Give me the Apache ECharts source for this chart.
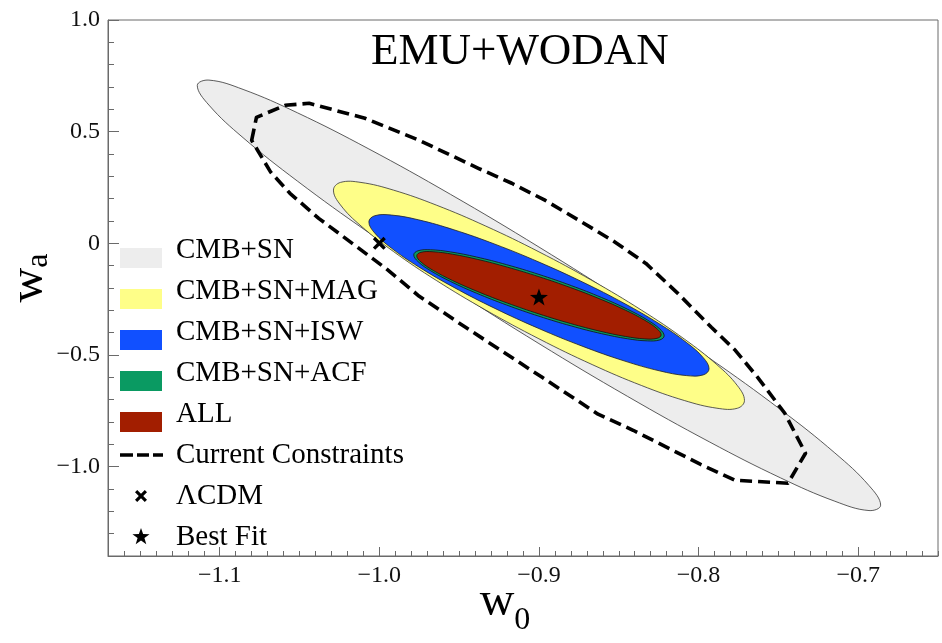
<!DOCTYPE html>
<html><head><meta charset="utf-8">
<script src="https://cdn.jsdelivr.net/npm/echarts@6/dist/echarts.min.js"></script>
<style>html,body{margin:0;padding:0;background:#fff}#c{width:942px;height:643px}</style>
</head><body><div id="c"></div>
<script>
// ---- data (w0, wa) contour points ----
const cmbSn = [[-0.68594,-1.17259],[-0.69323,-1.19653],[-0.71462,-1.15478],[-0.74864,-1.05021],[-0.79297,-0.88994],[-0.84460,-0.68487],[-0.9,-0.44900],[-0.95540,-0.19839],[-1.00703,0.04986],[-1.05136,0.27885],[-1.08538,0.47298],[-1.10677,0.61901],[-1.11406,0.70699],[-1.10677,0.73093],[-1.08538,0.68918],[-1.05136,0.58461],[-1.00703,0.42434],[-0.95540,0.21927],[-0.9,-0.01660],[-0.84460,-0.26721],[-0.79297,-0.51546],[-0.74864,-0.74445],[-0.71462,-0.93858],[-0.69323,-1.08461]];
const cmbSnMag = [[-0.77125,-0.70399],[-0.77564,-0.73834],[-0.78850,-0.73823],[-0.80896,-0.70367],[-0.83562,-0.63703],[-0.86668,-0.54284],[-0.9,-0.42752],[-0.93332,-0.29894],[-0.96438,-0.16583],[-0.99104,-0.03731],[-1.01150,0.07791],[-1.02436,0.17194],[-1.02875,0.23839],[-1.02436,0.27274],[-1.01150,0.27263],[-0.99104,0.23807],[-0.96438,0.17143],[-0.93332,0.07724],[-0.9,-0.03808],[-0.86668,-0.16666],[-0.83562,-0.29977],[-0.80896,-0.42829],[-0.78850,-0.54351],[-0.77564,-0.63754]];
const cmbSnIsw = [[-0.79344,-0.56175],[-0.79707,-0.58906],[-0.80772,-0.59210],[-0.82465,-0.57065],[-0.84672,-0.52618],[-0.87242,-0.46171],[-0.9,-0.38164],[-0.92758,-0.29143],[-0.95328,-0.19722],[-0.97535,-0.10545],[-0.99228,-0.02234],[-1.00293,0.04642],[-1.00656,0.09615],[-1.00293,0.12346],[-0.99228,0.12650],[-0.97535,0.10505],[-0.95328,0.06058],[-0.92758,-0.00389],[-0.9,-0.08396],[-0.87242,-0.17417],[-0.84672,-0.26838],[-0.82465,-0.36015],[-0.80772,-0.44326],[-0.79707,-0.51202]];
const cmbSnAcf = [[-0.82156,-0.41426],[-0.82423,-0.43229],[-0.83207,-0.43673],[-0.84454,-0.42726],[-0.86078,-0.40455],[-0.87970,-0.37014],[-0.9,-0.32635],[-0.92030,-0.27620],[-0.93922,-0.22309],[-0.95546,-0.17064],[-0.96793,-0.12243],[-0.97577,-0.08173],[-0.97844,-0.05134],[-0.97577,-0.03331],[-0.96793,-0.02887],[-0.95546,-0.03834],[-0.93922,-0.06105],[-0.92030,-0.09546],[-0.9,-0.13925],[-0.87970,-0.18940],[-0.86078,-0.24251],[-0.84454,-0.29496],[-0.83207,-0.34317],[-0.82423,-0.38387]];
const allProbes = [[-0.82344,-0.40991],[-0.82605,-0.42543],[-0.83369,-0.42781],[-0.84586,-0.41691],[-0.86172,-0.39346],[-0.88018,-0.35906],[-0.9,-0.31606],[-0.91982,-0.26738],[-0.93828,-0.21634],[-0.95414,-0.16643],[-0.96631,-0.12105],[-0.97395,-0.08327],[-0.97656,-0.05569],[-0.97395,-0.04017],[-0.96631,-0.03779],[-0.95414,-0.04869],[-0.93828,-0.07214],[-0.91982,-0.10654],[-0.9,-0.14954],[-0.88018,-0.19822],[-0.86172,-0.24926],[-0.84586,-0.29917],[-0.83369,-0.34455],[-0.82605,-0.38233]];
const currentConstraints = [[-1.080,0.461],[-1.077,0.564],[-1.059,0.618],[-1.044,0.627],[-1.009,0.560],[-0.975,0.461],[-0.938,0.336],[-0.917,0.269],[-0.896,0.192],[-0.875,0.103],[-0.854,0.013],[-0.833,-0.090],[-0.813,-0.224],[-0.792,-0.376],[-0.777,-0.479],[-0.763,-0.600],[-0.746,-0.761],[-0.733,-0.940],[-0.744,-1.074],[-0.777,-1.061],[-0.799,-0.989],[-0.841,-0.837],[-0.863,-0.765],[-0.898,-0.600],[-0.946,-0.376],[-0.975,-0.237],[-0.996,-0.112],[-1.017,0.000],[-1.038,0.112],[-1.056,0.224],[-1.068,0.318]];
const lcdmPoint = [[-1.0, 0.0]];
const bestFitPoint = [[-0.9, -0.24]];
const xTickValues = [-1.1, -1.0, -0.9, -0.8, -0.7];
const yTickValues = [-1.0, -0.5, 0, 0.5, 1.0];
const seriesNames = ['CMB+SN','CMB+SN+MAG','CMB+SN+ISW','CMB+SN+ACF','ALL','Current Constraints','ΛCDM','Best Fit'];

// ---- styling ----
const FONT = 'Liberation Serif';
const AX = '#6a6a6a';
const fmt = v => v === 0 ? '0' : (v < 0 ? '\u2212' : '') + Math.abs(v).toFixed(1);

const corners = 'M0,0L0.01,0L0,0.01Z M51,36L50.99,36L51,35.99Z ';
const swatchIcon = 'path://' + corners + 'M0,16L42,16L42,36L0,36Z';
const dashIcon = 'path://' + corners + 'M0,16.25L13,16.25L13,19.75L0,19.75Z M17,16.25L29,16.25L29,19.75L17,19.75Z M33,16.25L43,16.25L43,19.75L33,19.75Z';
const xShape = 'M15,14.2L17.2,12L21,15.8L24.8,12L27,14.2L23.2,18L27,21.8L24.8,24L21,20.2L17.2,24L15,21.8L18.8,18Z';
const starShape = 'M21,9L23.12,15.09L29.56,15.22L24.42,19.11L26.29,25.28L21,21.6L15.71,25.28L17.58,19.11L12.44,15.22L18.88,15.09Z';
const xIcon = 'path://' + corners + xShape;
const starIcon = 'path://' + corners + starShape;

function contour(name, pts, fill, stroke, lw, smooth, dash, z) {
  return {
    type: 'custom', name: name, coordinateSystem: 'cartesian2d',
    xAxisIndex: 0, yAxisIndex: 0, data: pts, z: z, silent: true,
    itemStyle: { color: fill === 'none' ? stroke : fill, opacity: 1 },
    renderItem: function (params, api) {
      if (params.dataIndex !== 0) return;
      const points = pts.map(p => api.coord(p));
      return {
        type: 'polygon',
        shape: { points: points, smooth: smooth },
        style: { fill: fill, stroke: stroke, lineWidth: lw, lineDash: dash || null, lineJoin: 'round' }
      };
    }
  };
}

const chart = echarts.init(document.getElementById('c'), null, { renderer: 'canvas' });
chart.setOption({
  animation: false,
  backgroundColor: '#fff',
  title: {
    text: 'EMU+WODAN', left: 371, top: 30, padding: 0,
    textStyle: { fontFamily: FONT, fontSize: 45, fontWeight: 'normal', color: '#000' }
  },
  grid: { left: 108, right: 4, top: 20, bottom: 87, show: true, borderColor: AX, borderWidth: 1, outerBoundsMode: 'none' },
  legend: {
    orient: 'vertical', left: 120, top: 232, padding: 0, itemWidth: 51, itemHeight: 36, itemGap: 5,
    selectedMode: false, itemStyle: { borderWidth: 0, opacity: 1 },
    textStyle: { fontFamily: FONT, fontSize: 29, color: '#000', lineHeight: 30 },
    data: [
      { name: seriesNames[0], icon: swatchIcon },
      { name: seriesNames[1], icon: swatchIcon },
      { name: seriesNames[2], icon: swatchIcon },
      { name: seriesNames[3], icon: swatchIcon },
      { name: seriesNames[4], icon: swatchIcon },
      { name: seriesNames[5], icon: dashIcon },
      { name: seriesNames[6], icon: xIcon },
      { name: seriesNames[7], icon: starIcon }
    ]
  },
  xAxis: [
    {
      type: 'value', min: -1.17, max: -0.65, position: 'bottom',
      axisLine: { show: true, onZero: false, lineStyle: { color: AX, width: 1 } },
      axisTick: { show: true, inside: true, length: 9, customValues: xTickValues, lineStyle: { color: AX } },
      axisLabel: { customValues: xTickValues, formatter: fmt, fontFamily: FONT, fontSize: 24, color: '#111', margin: 8 },
      splitLine: { show: false },
      name: '{w|w}{s|0}', nameLocation: 'middle', nameGap: 22, nameMoveOverlap: false,
      nameTextStyle: { padding: [0, 36, 0, 0], rich: {
        w: { fontFamily: FONT, fontSize: 48, color: '#000', lineHeight: 40, verticalAlign: 'top' },
        s: { fontFamily: FONT, fontSize: 32, color: '#000', lineHeight: 86 }
      } }
    },
    {
      type: 'value', min: -1.17, max: -0.65, interval: 0.01, position: 'bottom',
      axisLine: { show: false, onZero: false }, axisLabel: { show: false }, splitLine: { show: false },
      axisTick: { show: true, inside: true, length: 5, lineStyle: { color: AX } }
    }
  ],
  yAxis: [
    {
      type: 'value', min: -1.4, max: 1.0, position: 'left',
      axisLine: { show: true, onZero: false, lineStyle: { color: AX, width: 1 } },
      axisTick: { show: true, inside: true, length: 11, customValues: yTickValues, lineStyle: { color: AX } },
      axisLabel: { customValues: yTickValues, formatter: fmt, fontFamily: FONT, fontSize: 24, color: '#111', margin: 8 },
      splitLine: { show: false },
      name: '{w|w}{s|a}', nameLocation: 'middle', nameGap: 35, nameMoveOverlap: false,
      nameTextStyle: { padding: [0, 0, 0, 20], rich: {
        w: { fontFamily: FONT, fontSize: 48, color: '#000', lineHeight: 40, verticalAlign: 'top' },
        s: { fontFamily: FONT, fontSize: 32, color: '#000', lineHeight: 68 }
      } }
    },
    {
      type: 'value', min: -1.4, max: 1.0, interval: 0.1, position: 'left',
      axisLine: { show: false, onZero: false }, axisLabel: { show: false }, splitLine: { show: false },
      axisTick: { show: true, inside: true, length: 6, lineStyle: { color: AX } }
    }
  ],
  series: [
    contour(seriesNames[0], cmbSn, '#ededed', '#333', 0.8, 0.4, null, 2),
    contour(seriesNames[1], cmbSnMag, '#fefe88', '#333', 0.8, 0.4, null, 3),
    contour(seriesNames[2], cmbSnIsw, '#1150ff', '#222', 0.8, 0.4, null, 4),
    contour(seriesNames[3], cmbSnAcf, '#0a9a62', '#111', 0.8, 0.4, null, 5),
    contour(seriesNames[4], allProbes, '#a21e00', '#111', 0.8, 0.4, null, 6),
    contour(seriesNames[5], currentConstraints, 'none', '#000', 3.6, 0, [12, 6], 7),
    {
      type: 'scatter', name: seriesNames[6], data: lcdmPoint, xAxisIndex: 0, yAxisIndex: 0,
      symbol: 'path://' + xShape, symbolSize: 13, itemStyle: { color: '#000', opacity: 1 }, z: 10, silent: true
    },
    {
      type: 'scatter', name: seriesNames[7], data: bestFitPoint, xAxisIndex: 0, yAxisIndex: 0,
      symbol: 'path://' + starShape, symbolSize: [18, 17], itemStyle: { color: '#000', opacity: 1 }, z: 10, silent: true
    }
  ]
});
</script>
</body></html>
